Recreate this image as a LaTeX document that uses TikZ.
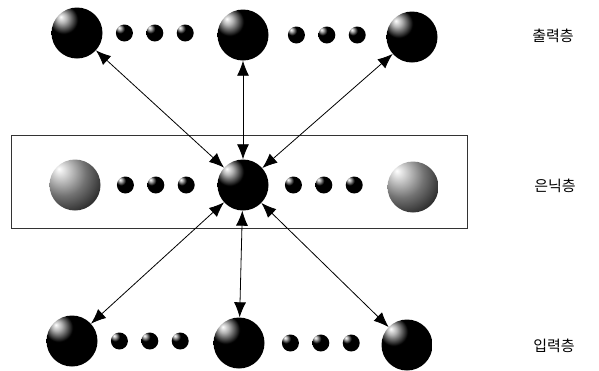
\documentclass[tikz,border=0pt]{standalone}
\usepackage{fontspec}
\newfontfamily\krfont{Noto Sans CJK KR}
\usetikzlibrary{positioning,arrows.meta,shapes}
\pgfdeclareradialshading{darkball}{\pgfpoint{-16bp}{16bp}}{color(0bp)=(white); color(5bp)=(white!70!black); color(14bp)=(black); color(80bp)=(black)}
\pgfdeclareradialshading{lightball}{\pgfpoint{-16bp}{16bp}}{color(0bp)=(white); color(8bp)=(black!20); color(22bp)=(black!55); color(38bp)=(black!85); color(50bp)=(black); color(80bp)=(black)}

\begin{document}
\begin{tikzpicture}[
      x=1pt, y=-1pt,
      node distance=13pt,
      ball/.style={circle, inner sep=0pt, minimum size=51pt, shading=darkball},
      ltball/.style={ball, shading=lightball},
      dot/.style={circle, inner sep=0pt, minimum size=17pt, shading=darkball},
      arr/.style={{Latex[length=15pt,width=12pt]}-{Latex[length=15pt,width=12pt]}, line width=0.8pt},
      lbl/.style={font=\krfont\fontsize{15}{17}\selectfont},
    ]
    \useasboundingbox (0,0) rectangle (599,370);
    % output layer
    \node[ball] (o1) at (77,33) {};
    \node[dot, right=of o1] (o1a) {};
    \node[dot, right=of o1a] (o1b) {};
    \node[dot, right=of o1b] (o1c) {};
    \node[ball] (o2) at (243,35) {};
    \node[dot, right=19pt of o2] (o2a) {};
    \node[dot, right=of o2a] (o2b) {};
    \node[dot, right=of o2b] (o2c) {};
    \node[ball] (o3) at (412,37) {};
    % hidden layer
    \draw[line width=0.8pt, black!80] (11,135) rectangle (467,228);
    \node[ltball] (h1) at (75,185) {};
    \node[dot, right=16pt of h1] (h1a) {};
    \node[dot, right=of h1a] (h1b) {};
    \node[dot, right=of h1b] (h1c) {};
    \node[ball] (h2) at (243,185) {};
    \node[dot, right=16pt of h2] (h2a) {};
    \node[dot, right=of h2a] (h2b) {};
    \node[dot, right=of h2b] (h2c) {};
    \node[ltball] (h3) at (413,187) {};
    % input layer
    \node[ball] (i1) at (72,341) {};
    \node[dot, right=of i1] (i1a) {};
    \node[dot, right=of i1a] (i1b) {};
    \node[dot, right=of i1b] (i1c) {};
    \node[ball] (i2) at (239,343) {};
    \node[dot, right=17pt of i2] (i2a) {};
    \node[dot, right=of i2a] (i2b) {};
    \node[dot, right=of i2b] (i2c) {};
    \node[ball] (i3) at (407,345) {};
    % links
    \draw[arr] (h2) -- (o1);
    \draw[arr] (h2) -- (o2);
    \draw[arr] (h2) -- (o3);
    \draw[arr] (h2) -- (i1);
    \draw[arr] (h2) -- (i2);
    \draw[arr] (h2) -- (i3);
    % layer names
    \node[lbl] (lo) at (553,36) {출력층};
    \node[lbl] (lh) at (555,186) {은닉층};
    \node[lbl] (li) at (554,346) {입력층};
  \end{tikzpicture}
\end{document}
